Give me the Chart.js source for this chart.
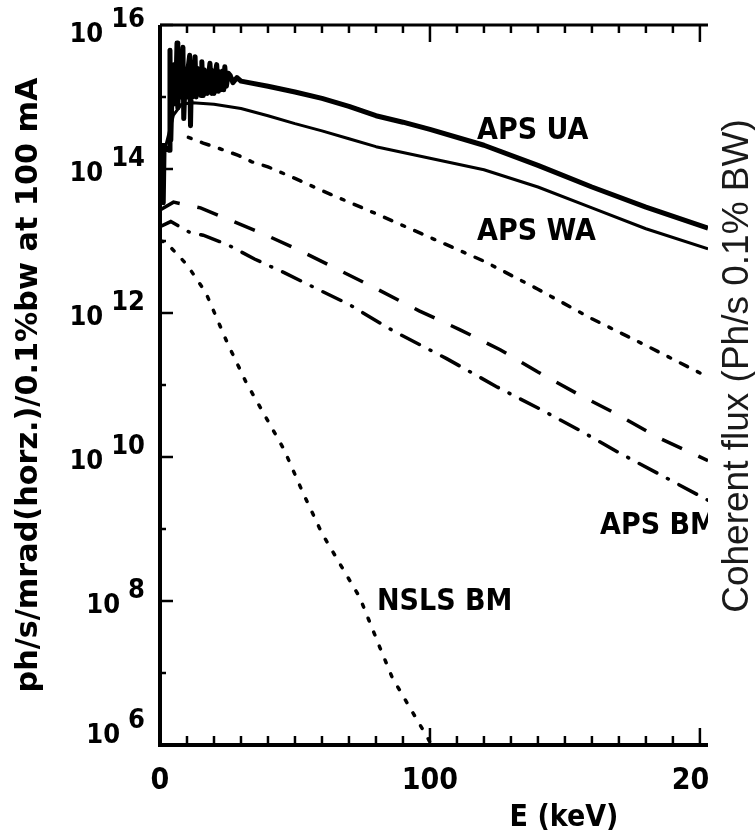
<!DOCTYPE html>
<html>
<head>
<meta charset="utf-8">
<title>Flux vs energy</title>
<script src="https://cdn.jsdelivr.net/npm/chart.js@4.4.0/dist/chart.umd.min.js"></script>
<style>
  html, body { margin: 0; padding: 0; background: #fff; }
  canvas { display: block; }
</style>
</head>
<body>
<canvas id="myChart" width="755" height="838"></canvas>
<script>
  // energies in keV, flux read as log10(ph/s/mrad/0.1%bw)
  const uaEnergy = [1.0, 1.2, 1.5, 3.4, 3.7, 4.0, 4.6, 5.0, 5.4, 5.8, 6.3, 6.6, 7.1, 7.5, 8.0, 8.5, 8.8, 9.4, 9.9, 10.4,
    11.0, 11.3, 11.7, 12.0, 12.4, 13.0, 13.4, 13.8, 14.2, 14.8, 15.2, 15.5, 16.0, 16.4, 16.8, 17.2, 17.5, 18.0, 18.5, 19.2,
    19.6, 20.0, 20.5, 21.0, 21.6, 22.0, 22.5, 23.2, 23.6, 24.0, 24.6, 25.3, 26, 27, 28.5, 30, 40, 50, 60, 70, 80, 90, 100,
    120, 140, 160, 180, 203];
  const uaLog = [14.36, 13.53, 14.3, 14.26, 15.65, 14.4, 15.3, 14.9, 15.45, 15.0, 15.75, 14.85, 15.4, 15.0, 15.35, 15.69, 14.7, 15.35, 15.0, 15.4,
    15.58, 14.6, 15.38, 15.0, 15.3, 15.56, 15.0, 15.4, 15.05, 15.35, 15.02, 15.49, 15.02, 15.38, 15.05, 15.35, 15.05, 15.3, 15.47, 15.05,
    15.36, 15.05, 15.33, 15.45, 15.08, 15.35, 15.1, 15.36, 15.1, 15.42, 15.15, 15.33, 15.3, 15.2, 15.27, 15.22, 15.15, 15.07, 14.98, 14.87, 14.74, 14.65, 14.55,
    14.33, 14.05, 13.75, 13.47, 13.18];

  const waEnergy = [2, 5, 8, 12, 20, 30, 40, 50, 60, 70, 80, 100, 120, 140, 160, 180, 203];
  const waLog = [14.3, 14.75, 14.9, 14.92, 14.9, 14.84, 14.74, 14.63, 14.53, 14.42, 14.31, 14.15, 13.99, 13.75, 13.46, 13.17, 12.89];

  const dotEnergy = [10.5, 16, 21.6, 29, 34, 40, 50, 60, 70, 80, 100, 120, 140, 160, 180, 203];
  const dotLog = [14.44, 14.36, 14.29, 14.19, 14.1, 14.03, 13.87, 13.7, 13.54, 13.38, 13.05, 12.72, 12.33, 11.92, 11.55, 11.11];

  const dashEnergy = [0, 5, 15, 24, 37, 50, 64, 80, 96, 111, 126, 140, 155, 170, 184, 203];
  const dashLog = [13.43, 13.54, 13.46, 13.32, 13.12, 12.9, 12.64, 12.34, 12.03, 11.77, 11.49, 11.18, 10.87, 10.58, 10.28, 9.95];

  const bmEnergy = [0, 4, 11, 16, 25, 35, 46, 59, 70, 86, 106, 125, 140, 155, 170, 189, 203];
  const bmLog = [13.2, 13.27, 13.12, 13.08, 12.95, 12.75, 12.56, 12.32, 12.12, 11.76, 11.37, 10.97, 10.68, 10.38, 10.06, 9.68, 9.4];

  const nslsEnergy = [0, 2, 10, 17, 25, 32, 40, 46, 53, 60, 68, 74, 81.5, 86, 93, 99, 102];
  const nslsLog = [13.0, 12.99, 12.67, 12.28, 11.58, 11.03, 10.5, 10.1, 9.5, 8.94, 8.43, 8.05, 7.35, 6.94, 6.49, 6.11, 5.9];

  // axis ticks
  const xMajorTicks = [0, 100, 200];
  const xMinorTicks = [10, 20, 30, 40, 50, 60, 70, 80, 90, 110, 120, 130, 140, 150, 160, 170, 180, 190];
  const yExponents = [6, 8, 10, 12, 14, 16];
  const yMinorExponents = [7, 9, 11, 13, 15];

  const curveLabels = ['APS UA', 'APS WA', 'APS BM', 'NSLS BM'];
  const yTitle = 'ph/s/mrad(horz.)/0.1%bw at 100 mA';
  const xTitle = 'E (keV)';
  const sideTitle = 'Coherent flux (Ph/s 0.1% BW)';

  const blocky = '"DejaVu Sans Condensed", "DejaVu Sans", sans-serif';

  function toPoints(xs, logs) {
    return xs.map((e, i) => ({ x: e, y: Math.pow(10, logs[i]) }));
  }

  function line(ctx, x1, y1, x2, y2) {
    ctx.beginPath();
    ctx.moveTo(x1, y1);
    ctx.lineTo(x2, y2);
    ctx.stroke();
  }

  const frame = {
    id: 'frame',
    beforeDraw(chart) {
      const ctx = chart.ctx;
      ctx.save();
      ctx.fillStyle = '#fff';
      ctx.fillRect(0, 0, chart.width, chart.height);
      ctx.restore();
    },
    afterDraw(chart) {
      const ctx = chart.ctx;
      const a = chart.chartArea;
      const xs = chart.scales.x;
      const ys = chart.scales.y;
      ctx.save();
      ctx.strokeStyle = '#000';
      ctx.fillStyle = '#000';

      // frame lines
      ctx.lineWidth = 4;
      ctx.beginPath();
      ctx.moveTo(a.left, a.top);
      ctx.lineTo(a.left, a.bottom);
      ctx.lineTo(a.right, a.bottom);
      ctx.stroke();
      ctx.lineWidth = 3;
      line(ctx, a.left, a.top, a.right, a.top);

      // x ticks, bottom and top
      ctx.lineWidth = 2.5;
      xMinorTicks.forEach(v => {
        const px = xs.getPixelForValue(v);
        line(ctx, px, a.bottom, px, a.bottom - 9);
        line(ctx, px, a.top, px, a.top + 8);
      });
      xMajorTicks.forEach(v => {
        const px = xs.getPixelForValue(v);
        line(ctx, px, a.bottom, px, a.bottom - 17);
        line(ctx, px, a.top, px, a.top + 17);
      });
      // y ticks
      yExponents.forEach(k => {
        const py = ys.getPixelForValue(Math.pow(10, k));
        line(ctx, a.left, py, a.left + 13, py);
      });
      yMinorExponents.forEach(k => {
        const py = ys.getPixelForValue(Math.pow(10, k));
        line(ctx, a.left, py, a.left + 6, py);
      });

      // y tick labels 10^k
      ctx.textBaseline = 'middle';
      ctx.font = 'bold 27px ' + blocky;
      yExponents.forEach(k => {
        const py = ys.getPixelForValue(Math.pow(10, k));
        const tenY = Math.min(Math.max(py + 5, 35), 736);
        const ex = String(k);
        const we = ctx.measureText(ex).width;
        ctx.textAlign = 'right';
        ctx.fillText(ex, 145, tenY - 15);
        ctx.fillText('10', 145 - we - 8, tenY);
      });

      // everything inside the cropped picture stops at the right edge
      ctx.save();
      ctx.beginPath();
      ctx.rect(0, 0, a.right, chart.height);
      ctx.clip();

      ctx.font = 'bold 30px ' + blocky;
      ctx.textAlign = 'center';
      xMajorTicks.forEach(v => {
        ctx.fillText(String(v), xs.getPixelForValue(v), 781);
      });
      ctx.fillText(xTitle, 564, 818);

      ctx.textAlign = 'left';
      ctx.fillText(curveLabels[0], 477, 131);
      ctx.fillText(curveLabels[1], 477, 232);
      ctx.fillText(curveLabels[2], 600, 526);
      ctx.fillText(curveLabels[3], 377, 602);
      ctx.restore();

      // left title, rotated
      ctx.save();
      ctx.font = 'bold 30px ' + blocky;
      const tw = ctx.measureText(yTitle).width;
      ctx.translate(37, 385);
      ctx.rotate(-Math.PI / 2);
      ctx.scale(615 / tw, 1);
      ctx.textAlign = 'center';
      ctx.textBaseline = 'alphabetic';
      ctx.fillText(yTitle, 0, 0);
      ctx.restore();

      // right title from the other figure
      ctx.save();
      ctx.font = '37px "Liberation Sans", Arial, sans-serif';
      ctx.fillStyle = '#1a1a1a';
      ctx.translate(748, 366);
      ctx.rotate(-Math.PI / 2);
      ctx.textAlign = 'center';
      ctx.textBaseline = 'alphabetic';
      ctx.fillText(sideTitle, 0, 0);
      ctx.restore();

      ctx.restore();
    }
  };

  const ctx = document.getElementById('myChart').getContext('2d');
  const chart = new Chart(ctx, {
    type: 'line',
    data: {
      datasets: [
        { label: 'APS UA', data: toPoints(uaEnergy, uaLog), borderColor: '#000', borderWidth: 5,
          borderJoinStyle: 'round' },
        { label: 'APS WA', data: toPoints(waEnergy, waLog), borderColor: '#000', borderWidth: 3,
          borderJoinStyle: 'round' },
        { label: 'dotted', data: toPoints(dotEnergy, dotLog), borderColor: '#000', borderWidth: 3.5,
          borderDash: [3, 11, 8, 11], borderCapStyle: 'round' },
        { label: 'dashed', data: toPoints(dashEnergy, dashLog), borderColor: '#000', borderWidth: 3.5,
          borderDash: [22, 18] },
        { label: 'APS BM', data: toPoints(bmEnergy, bmLog), borderColor: '#000', borderWidth: 3.5,
          borderDash: [20, 12, 1, 12], borderCapStyle: 'round' },
        { label: 'NSLS BM', data: toPoints(nslsEnergy, nslsLog), borderColor: '#000', borderWidth: 3.5,
          borderDash: [3, 12], borderCapStyle: 'round' }
      ]
    },
    options: {
      responsive: false,
      animation: false,
      devicePixelRatio: 1,
      layout: { padding: { left: 160, right: 47, top: 25, bottom: 93 } },
      elements: { point: { radius: 0 }, line: { tension: 0, fill: false } },
      plugins: { legend: { display: false }, tooltip: { enabled: false } },
      scales: {
        x: { type: 'linear', min: 0, max: 203, display: false },
        y: { type: 'logarithmic', min: 1e6, max: 1e16, display: false }
      }
    },
    plugins: [frame]
  });
</script>
</body>
</html>
